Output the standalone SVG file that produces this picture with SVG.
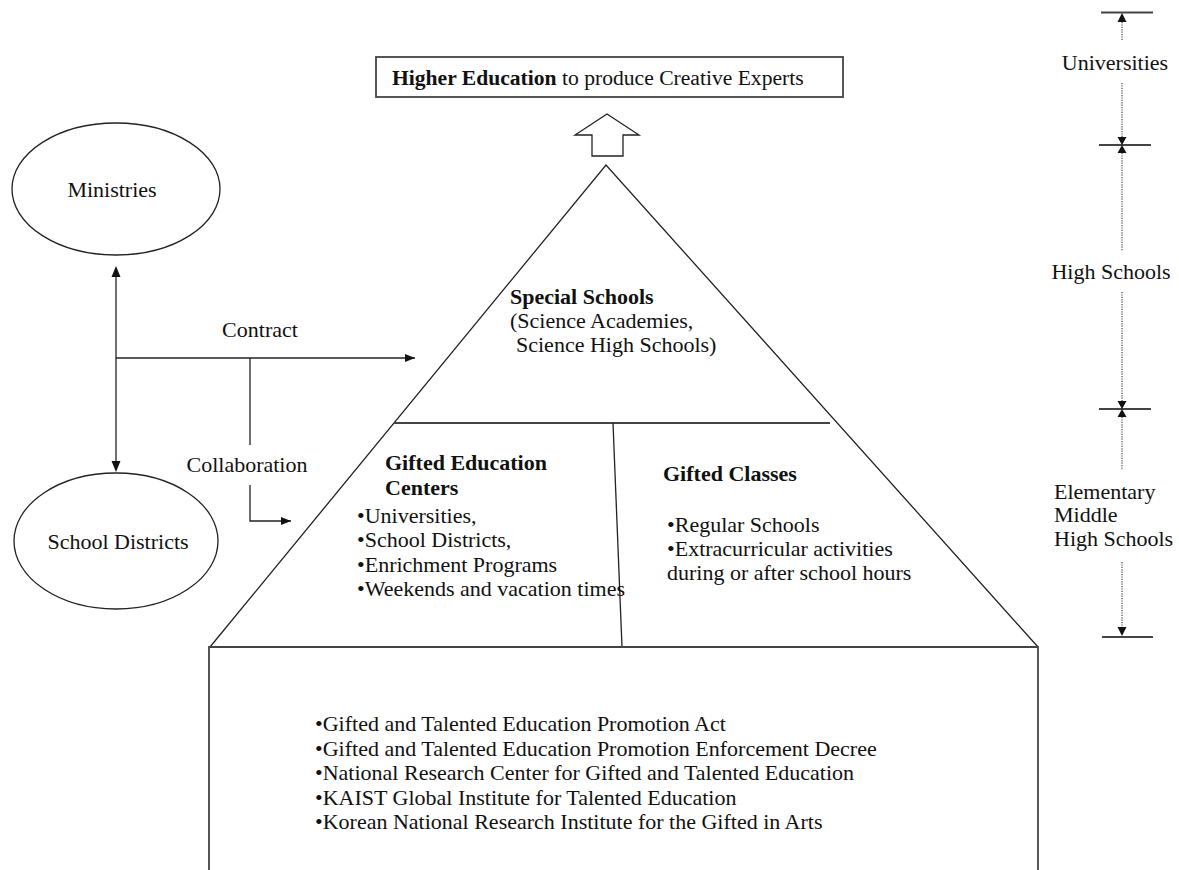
<svg xmlns="http://www.w3.org/2000/svg" width="1179" height="870" viewBox="0 0 1179 870">
<defs>
<style>
text{font-family:"Liberation Serif","Times New Roman",serif;font-size:22px;fill:#111;}
.b{font-weight:bold;}
.ln{fill:none;stroke:#222;stroke-width:1.3;}
.th{fill:none;stroke:#444;stroke-width:1.8;}
.dot{fill:none;stroke:#555;stroke-width:1.3;stroke-dasharray:1.2 1.2;}
.ah{fill:#111;stroke:none;}
</style>
<marker id="arr" markerWidth="10" markerHeight="8" refX="10" refY="4" orient="auto" markerUnits="userSpaceOnUse">
<path d="M0,0 L10,4 L0,8 Z" fill="#111"/>
</marker>
</defs>
<rect width="1179" height="870" fill="#fff"/>

<g id="higher-education">
<rect x="376" y="57" width="467" height="40" class="th"/>
<text x="392" y="85" style="font-size:21.6px"><tspan class="b">Higher Education</tspan> to produce Creative Experts</text>
</g>

<g id="up-arrow">
<path d="M607,114 L639,135 L623,135 L623,156 L592,156 L592,135 L575,135 Z" class="ln"/>
</g>

<g id="ministries">
<ellipse cx="116" cy="189" rx="104" ry="66" class="ln"/>
<text x="112" y="197" text-anchor="middle">Ministries</text>
</g>

<g id="school-districts">
<ellipse cx="116" cy="541" rx="102" ry="68" class="ln"/>
<text x="118" y="549" text-anchor="middle">School Districts</text>
</g>

<g id="pyramid">
<path d="M210,647 L606,165 L1038,647" class="ln"/>
<line x1="394" y1="423" x2="830" y2="423" class="th"/>
<line x1="613" y1="423" x2="622" y2="647" class="ln"/>
</g>

<g id="special-schools">
<text x="510" y="304" class="b">Special Schools</text>
<text x="510" y="328">(Science Academies,</text>
<text x="516" y="352">Science High Schools)</text>
</g>

<g id="gifted-education-centers">
<text x="385" y="470" class="b">Gifted Education</text>
<text x="385" y="495" class="b">Centers</text>
<text x="357" y="523">•Universities,</text>
<text x="357" y="547">•School Districts,</text>
<text x="357" y="572">•Enrichment Programs</text>
<text x="357" y="596">•Weekends and vacation times</text>
</g>

<g id="gifted-classes">
<text x="663" y="481" class="b">Gifted Classes</text>
<text x="667" y="532">•Regular Schools</text>
<text x="667" y="556">•Extracurricular activities</text>
<text x="667" y="580">during or after school hours</text>
</g>

<g id="foundation">
<path d="M209,870 L209,647 L1038,647 L1038,870" class="th"/>
<text x="315" y="731">•Gifted and Talented Education Promotion Act</text>
<text x="315" y="756">•Gifted and Talented Education Promotion Enforcement Decree</text>
<text x="315" y="780">•National Research Center for Gifted and Talented Education</text>
<text x="315" y="805">•KAIST Global Institute for Talented Education</text>
<text x="315" y="829">•Korean National Research Institute for the Gifted in Arts</text>
</g>

<g id="connectors">
<line x1="116" y1="277" x2="116" y2="461" class="ln"/>
<path d="M116,266 L111.5,277 L120.5,277 Z" class="ah"/>
<path d="M116,472 L111.5,461 L120.5,461 Z" class="ah"/>
<line x1="116" y1="358" x2="415" y2="358" class="ln" marker-end="url(#arr)"/>
<line x1="250" y1="358" x2="250" y2="445" class="ln"/>
<path d="M250,485 L250,521 L291,521" class="ln" marker-end="url(#arr)"/>
<text x="260" y="337" text-anchor="middle">Contract</text>
<text x="247" y="472" text-anchor="middle">Collaboration</text>
</g>

<g id="level-scale">
<line x1="1101" y1="12.5" x2="1153" y2="12.5" class="th"/>
<line x1="1099" y1="145" x2="1151" y2="145" class="th"/>
<line x1="1099" y1="409" x2="1151" y2="409" class="th"/>
<line x1="1102" y1="637" x2="1153" y2="637" class="th"/>
<path d="M1122,13 L1117.5,22 L1126.5,22 Z" class="ah"/>
<path d="M1122,145 L1117.5,137 L1126.5,137 Z" class="ah"/>
<path d="M1122,145 L1117.5,153 L1126.5,153 Z" class="ah"/>
<path d="M1122,409 L1117.5,401 L1126.5,401 Z" class="ah"/>
<path d="M1122,409 L1117.5,417 L1126.5,417 Z" class="ah"/>
<path d="M1122,636 L1117.5,627 L1126.5,627 Z" class="ah"/>
<line x1="1122" y1="22" x2="1122" y2="41" class="dot"/>
<line x1="1122" y1="83" x2="1122" y2="137" class="dot"/>
<line x1="1122" y1="153" x2="1122" y2="251" class="dot"/>
<line x1="1122" y1="292" x2="1122" y2="401" class="dot"/>
<line x1="1122" y1="417" x2="1122" y2="470" class="dot"/>
<line x1="1122" y1="562" x2="1122" y2="627" class="dot"/>
<text x="1115" y="70" text-anchor="middle">Universities</text>
<text x="1111" y="279" text-anchor="middle">High Schools</text>
<text x="1054" y="499">Elementary</text>
<text x="1054" y="522">Middle</text>
<text x="1054" y="546">High Schools</text>
</g>
</svg>
